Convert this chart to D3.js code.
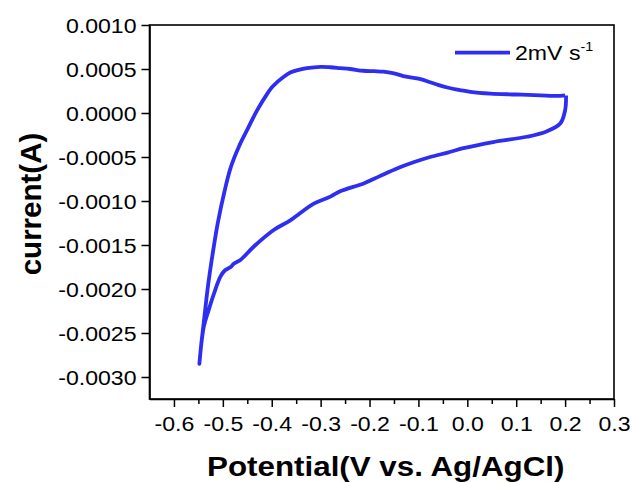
<!DOCTYPE html>
<html>
<head>
<meta charset="utf-8">
<script src="https://cdn.jsdelivr.net/npm/d3@7"></script>
<style>
    body { margin: 0; background: #fff; }
    text { font-family: "Liberation Sans", Arial, sans-serif; fill: #000; }
</style>
</head>
<body>
<div id="chart"></div>
<script>
// anodic sweep: from +0.2 V back down to -0.55 V (upper branch)
const potentialUpper = [0.200, 0.190, 0.150, 0.100, 0.047, 0.006, -0.015, -0.041, -0.060, -0.076, -0.100, -0.131,
    -0.150, -0.172, -0.190, -0.213, -0.240, -0.260, -0.280, -0.300, -0.328, -0.345, -0.362, -0.376, -0.389, -0.400,
    -0.409, -0.430, -0.450, -0.467, -0.484, -0.497, -0.510, -0.520, -0.530, -0.538, -0.544, -0.548];
const currentUpper = [0.00020, 0.000195, 0.00020, 0.00021, 0.00022, 0.00024, 0.00026, 0.00029, 0.00032, 0.00035,
    0.00039, 0.00042, 0.00045, 0.00047, 0.000475, 0.00048, 0.00050, 0.00051, 0.00052, 0.000525, 0.00051, 0.00049,
    0.00046, 0.00041, 0.00035, 0.00029, 0.00022, 0.00003, -0.00019, -0.00038, -0.00062, -0.00090, -0.00124,
    -0.00157, -0.00195, -0.00233, -0.00262, -0.00285];

// return sweep: from -0.55 V up to +0.2 V (lower branch)
const potentialLower = [-0.548, -0.539, -0.529, -0.518, -0.505, -0.496, -0.484, -0.477, -0.464, -0.437, -0.396,
    -0.362, -0.314, -0.280, -0.260, -0.212, -0.180, -0.144, -0.110, -0.076, -0.040, -0.008, 0.053, 0.122, 0.162,
    0.190, 0.200, 0.202];
const currentLower = [-0.00285, -0.00243, -0.00224, -0.00205, -0.00186, -0.00179, -0.00175, -0.00171, -0.00167,
    -0.00152, -0.00133, -0.00122, -0.00103, -0.00095, -0.00089, -0.00080, -0.00072, -0.00063, -0.00056, -0.00050,
    -0.00045, -0.00040, -0.00033, -0.00027, -0.00021, -0.00012, 0.00003, 0.00020];

const xTicks = [-0.6, -0.5, -0.4, -0.3, -0.2, -0.1, 0.0, 0.1, 0.2, 0.3];
const xMinorTicks = [-0.55, -0.45, -0.35, -0.25, -0.15, -0.05, 0.05, 0.15, 0.25];
const yTicks = [0.0010, 0.0005, 0.0000, -0.0005, -0.0010, -0.0015, -0.0020, -0.0025, -0.0030];

const legendLabel = "2mV s";
const legendSup = "-1";
const lineColor = "#2e2ef2";

let width = 632, height = 483;
let margin = {top: 25, right: 18, bottom: 84, left: 149.5};

let svg = d3.select("#chart").append("svg")
    .attr("width", width)
    .attr("height", height);

let x = d3.scaleLinear()
    .domain([-0.65, 0.3])
    .range([margin.left, width - margin.right]);

let y = d3.scaleLinear()
    .domain([-0.00325, 0.001])
    .range([height - margin.bottom, margin.top]);

// build the closed loop
let loop = potentialUpper.map((v, i) => [v, currentUpper[i]])
    .concat(potentialLower.map((v, i) => [v, currentLower[i]]));

let line = d3.line()
    .x(d => x(d[0]))
    .y(d => y(d[1]))
    .curve(d3.curveCatmullRom.alpha(0.5));

svg.append("path")
    .datum(loop)
    .attr("fill", "none")
    .attr("stroke", lineColor)
    .attr("stroke-width", 3.8)
    .attr("stroke-linejoin", "round")
    .attr("d", line);

// frame
svg.append("rect")
    .attr("x", x.range()[0])
    .attr("y", y.range()[1])
    .attr("width", x.range()[1] - x.range()[0])
    .attr("height", y.range()[0] - y.range()[1])
    .attr("fill", "none")
    .attr("stroke", "#000")
    .attr("stroke-width", 1.6);

// x axis
let xAxis = svg.append("g")
    .attr("transform", `translate(0, ${y.range()[0]})`)
    .call(d3.axisBottom(x).tickValues(xTicks).tickSize(8).tickSizeOuter(0).tickFormat(d3.format(".1f")));

svg.append("g")
    .attr("transform", `translate(0, ${y.range()[0]})`)
    .call(d3.axisBottom(x).tickValues(xMinorTicks).tickSize(5).tickSizeOuter(0).tickFormat(""))
    .call(g => g.select(".domain").remove());

xAxis.selectAll("text")
    .attr("y", 0)
    .attr("dy", 0)
    .attr("transform", "translate(0, 32) scale(1.1, 1)")
    .style("font-size", "21px")
    .text(d => d3.format(".1f")(d).replace("−", "-"));

// y axis
let yAxis = svg.append("g")
    .attr("transform", `translate(${x.range()[0]}, 0)`)
    .call(d3.axisLeft(y).tickValues(yTicks).tickSize(8).tickSizeOuter(0).tickFormat(d3.format(".4f")));

yAxis.selectAll("text")
    .attr("x", 0)
    .attr("dy", "0.34em")
    .attr("transform", "translate(-13, 0) scale(1.1, 1)")
    .style("font-size", "21px")
    .text(d => d3.format(".4f")(d).replace("−", "-"));

svg.selectAll(".domain").attr("stroke-width", 1.6);
svg.selectAll(".tick line").attr("stroke-width", 1.5);

// axis titles
svg.append("text")
    .attr("transform", `translate(${(x.range()[0] + x.range()[1]) / 2 + 4}, 476) scale(1.1, 1)`)
    .attr("text-anchor", "middle")
    .style("font-size", "28.5px")
    .style("font-weight", "bold")
    .text("Potential(V vs. Ag/AgCl)");

svg.append("text")
    .attr("transform", "translate(41, 204) rotate(-90)")
    .attr("text-anchor", "middle")
    .style("font-size", "29.5px")
    .style("font-weight", "bold")
    .text("current(A)");

// legend
let legend = svg.append("g");

legend.append("line")
    .attr("x1", 455).attr("x2", 510)
    .attr("y1", 52.7).attr("y2", 52.7)
    .attr("stroke", lineColor)
    .attr("stroke-width", 3.8);

let legendText = legend.append("text")
    .attr("transform", "translate(515, 60) scale(1.1, 1)")
    .style("font-size", "21px");

legendText.append("tspan").text(legendLabel);
legendText.append("tspan")
    .attr("dy", -9)
    .style("font-size", "13px")
    .text(legendSup);
</script>
</body>
</html>
